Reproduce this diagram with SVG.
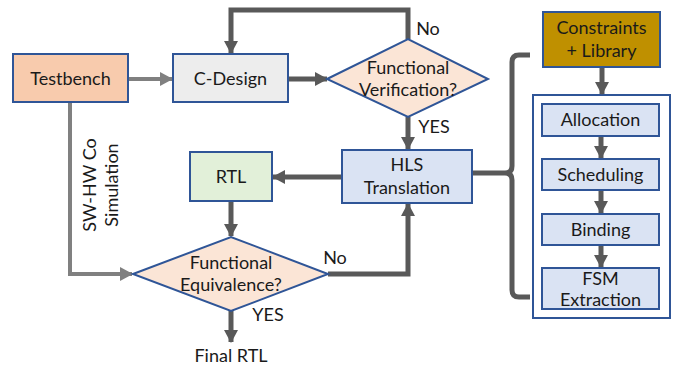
<svg xmlns="http://www.w3.org/2000/svg" width="674" height="371" viewBox="0 0 674 371">
<style>
text{font-family:Lato,"Open Sans","Liberation Sans",sans-serif;font-size:18px;fill:#1a1a1a;text-anchor:middle}
.box{stroke:#2f5597;stroke-width:2}
.dk{stroke:#595959;stroke-width:5;fill:none}
.lt{stroke:#808080;stroke-width:4;fill:none}
</style>
<defs>
<marker id="ad" markerUnits="userSpaceOnUse" markerWidth="14" markerHeight="16" refX="12" refY="8" orient="auto"><path d="M0,1 L13,8 L0,15 Z" fill="#595959"/></marker>
<marker id="al" markerUnits="userSpaceOnUse" markerWidth="14" markerHeight="16" refX="12" refY="8" orient="auto"><path d="M0,1 L13,8 L0,15 Z" fill="#808080"/></marker>
</defs>
<g id="hlsgroup"><rect class="box" x="533" y="95" width="137" height="223" fill="#ffffff"/></g>
<g id="connectors">
<path class="lt" d="M128,79 H172" marker-end="url(#al)"/>
<path class="dk" d="M288,79 H327" marker-end="url(#ad)"/>
<path class="dk" d="M408,39 V10 H231 V53" marker-end="url(#ad)"/>
<path class="dk" d="M408,117 V149" marker-end="url(#ad)"/>
<path class="dk" d="M342,177 H273" marker-end="url(#ad)"/>
<path class="dk" d="M231,201 V236" marker-end="url(#ad)"/>
<path class="lt" d="M70,102 V274 H132" marker-end="url(#al)"/>
<path class="dk" d="M328,274 H408 V204" marker-end="url(#ad)"/>
<path class="dk" d="M231,311 V342" marker-end="url(#ad)"/>
<path class="dk" d="M602,67 V94" marker-end="url(#ad)"/>
<path class="dk" d="M601,136 V158" marker-end="url(#ad)"/>
<path class="dk" d="M601,190 V213" marker-end="url(#ad)"/>
<path class="dk" d="M601,245 V267" marker-end="url(#ad)"/>
<path class="dk" d="M472,173 H505 Q512,173 512,166 V62 Q512,55 519,55 H530 M512,180 V290 Q512,297 519,297 H530 M505,173 Q512,173 512,180"/>
<text x="428" y="35">No</text>
<text x="434" y="133">YES</text>
<text x="335" y="264">No</text>
<text x="268" y="321">YES</text>
<text x="231" y="362">Final RTL</text>
<text transform="translate(96,185) rotate(-90)" x="0" y="0">SW-HW Co</text>
<text transform="translate(118,185) rotate(-90)" x="0" y="0">Simulation</text>
</g>
<g id="testbench"><rect class="box" x="13" y="54" width="115" height="48" fill="#f8cbad"/><text x="70.5" y="85">Testbench</text></g>
<g id="cdesign"><rect class="box" x="173" y="54" width="115" height="48" fill="#ededed"/><text x="230.5" y="85">C-Design</text></g>
<g id="funcverif"><polygon class="box" points="327,79 408,39 488,79 408,117" fill="#fbe5d6"/><text x="408" y="74">Functional</text><text x="408" y="96">Verification?</text></g>
<g id="hls"><rect class="box" x="342" y="150" width="130" height="53" fill="#dae3f3"/><text x="407" y="171">HLS</text><text x="407" y="194">Translation</text></g>
<g id="rtl"><rect class="box" x="190" y="152" width="82" height="49" fill="#e2f0d9"/><text x="231" y="183">RTL</text></g>
<g id="funcequiv"><polygon class="box" points="133,274 231,237 328,274 231,311" fill="#fbe5d6"/><text x="231" y="269">Functional</text><text x="231" y="291">Equivalence?</text></g>
<g id="constraints"><rect class="box" x="543" y="12" width="117" height="55" fill="#bf9000"/><text x="601.5" y="34">Constraints</text><text x="601.5" y="57">+ Library</text></g>
<g id="allocation"><rect class="box" x="542" y="104" width="117" height="32" fill="#dae3f3"/><text x="600.5" y="126">Allocation</text></g>
<g id="scheduling"><rect class="box" x="542" y="159" width="117" height="31" fill="#dae3f3"/><text x="600.5" y="181">Scheduling</text></g>
<g id="binding"><rect class="box" x="542" y="214" width="117" height="31" fill="#dae3f3"/><text x="600.5" y="236">Binding</text></g>
<g id="fsm"><rect class="box" x="542" y="268" width="117" height="41" fill="#dae3f3"/><text x="600.5" y="285">FSM</text><text x="600.5" y="306">Extraction</text></g>
</svg>
